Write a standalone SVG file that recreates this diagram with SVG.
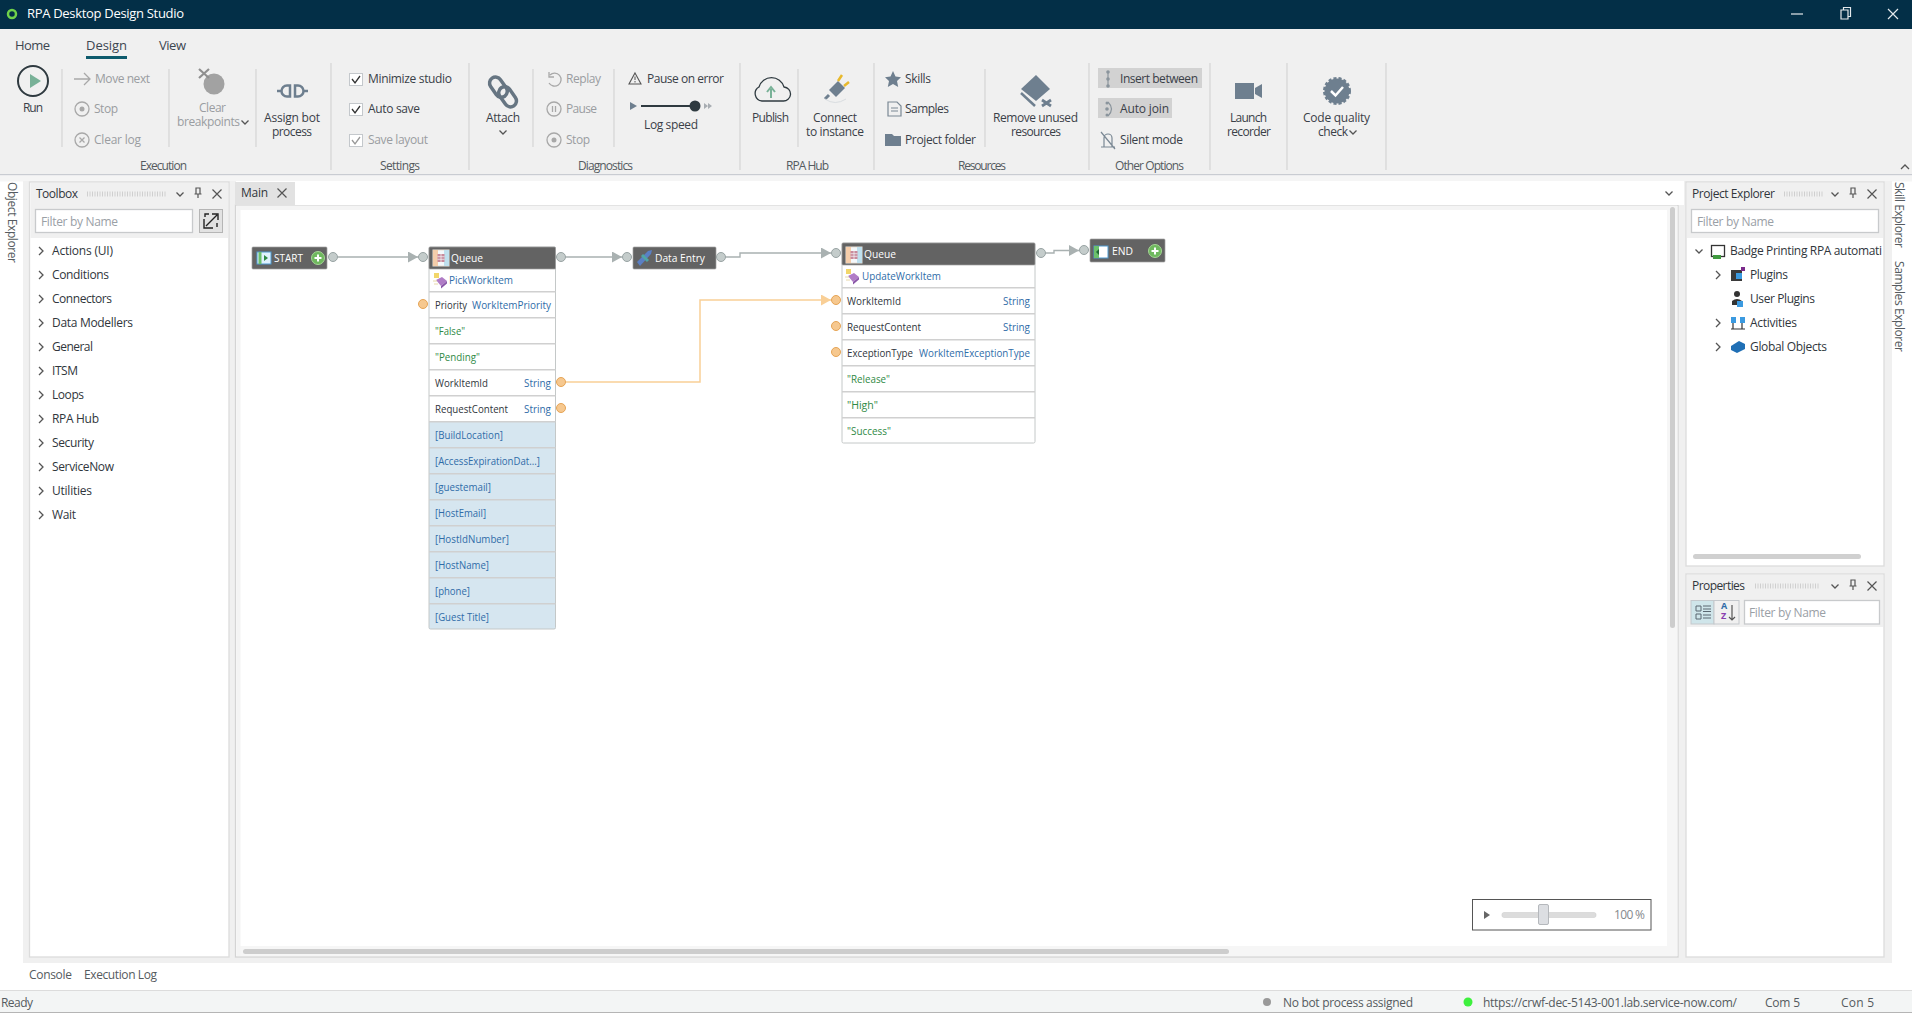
<svg xmlns="http://www.w3.org/2000/svg" width="1912" height="1013" viewBox="0 0 1912 1013">
<style>
text{font-family:"Open Sans","Noto Sans","Liberation Sans",sans-serif;font-size:12px;fill:#3a4048}
.g{fill:#9a9da1}
.d{fill:#30363c}
.tab{font-size:13px;fill:#3c4650}
.w{fill:#fff}
.b{fill:#2f6ca8}
.gr{fill:#2f8a45}
.ph{fill:#9aa0a6}
.mu{fill:#555b60}
.sep{stroke:#cfcfcf;stroke-width:1;fill:none}
.chev{stroke:#555;stroke-width:1.3;fill:none}
.ico{fill:#6e7f8f}
.dis{stroke:#a8a8a8;stroke-width:1.3;fill:none}
.box{fill:#fff;stroke:#c4c8cc;stroke-width:1}
.filter{fill:#fff;stroke:#c8cacc;stroke-width:1.3}
.panel{fill:#fff;stroke:#dcdcdc;stroke-width:1.3}
.hdr{fill:#636363;stroke:#a0a0a0;stroke-width:.7}
.row{fill:#fff}
.blue{fill:#d6e6f0}
.rowsep{stroke:#d0d0d0;stroke-width:1.6}
.outline{fill:none;stroke:#c4c8c8;stroke-width:1}
.pg{fill:#c4cccb;stroke:#98a3a3;stroke-width:1}
.po{fill:#f6c88f;stroke:#e6a455;stroke-width:1}
.conn{fill:none;stroke:#a9b1b1;stroke-width:1.4}
.conno{fill:none;stroke:#f9cf96;stroke-width:1.5}
.grip{stroke:#cfcfcf;stroke-width:5;stroke-dasharray:1 1.500;fill:none}
.x{stroke:#555;stroke-width:1.2;fill:none}
.node text{font-size:11.500px}
</style>
<defs>
<marker id="ag" markerUnits="userSpaceOnUse" markerWidth="10" markerHeight="11" refX="10" refY="5.500" orient="auto"><path d="M0 0L10 5.500L0 11Z" fill="#a9b1b1"/></marker>
<marker id="ao" markerUnits="userSpaceOnUse" markerWidth="10" markerHeight="11" refX="10" refY="5.500" orient="auto"><path d="M0 0L10 5.500L0 11Z" fill="#f9cf96"/></marker>
<g id="chevR"><path class="chev" d="M-2-4L2 0L-2 4"/></g>
<g id="chevD"><path class="chev" d="M-3.500-1.500L0 2L3.500-1.500"/></g>
<g id="closeX"><path class="x" d="M-4.500-4.500L4.500 4.500M4.500-4.500L-4.500 4.500"/></g>
<g id="pin"><path class="x" d="M-2-5H2V1H-2ZM-3.500 1H3.500M0 1V5"/></g>
<g id="plus"><circle r="6.500" fill="#6fb85e" stroke="#a5d695"/><path d="M-3.500 0H3.500M0-3.500V3.500" stroke="#fff" stroke-width="2"/></g>
<g id="qicon"><rect x="0" y="0" width="16" height="16" fill="#f4f8fb" stroke="#e9e2d8"/><rect x="0" y="0" width="5" height="16" fill="#f5cdaa"/><rect x="11" y="0" width="5" height="16" fill="#bfe0ee"/><rect x="4.500" y="4" width="7" height="8" fill="#c98a9c"/><path d="M4.500 6.700H11.500M4.500 9.300H11.500M8 4V12" stroke="#f4f8fb" stroke-width=".7"/></g>
<g id="micon"><path d="M3 7L9 4L14 8L8 13Z" fill="#b07cc6"/><path d="M8 13L14 8V10.500L8 15.500Z" fill="#8a57a8"/><rect x="1" y="0" width="5" height="5" fill="#f2d66a"/><path d="M0 8H4M1 11H5" stroke="#e8d8a8"/></g>
</defs>

<rect width="1912" height="1013" fill="#fff"/>
<g id="titlebar">
<rect width="1912" height="29" fill="#032f47"/>
<circle cx="12" cy="14" r="4" fill="none" stroke="#6fd24a" stroke-width="2.500"/>
<text class="w" x="27" y="18" textLength="157" style="font-size:13px">RPA Desktop Design Studio</text>
<path d="M1791 14H1803" stroke="#e4e9ec" stroke-width="1.200"/>
<path d="M1841 10V19H1848V10ZM1843.500 10V7.500H1850.500V16.500H1848" fill="none" stroke="#e4e9ec" stroke-width="1.200"/>
<path d="M1888 9L1898 19M1898 9L1888 19" stroke="#e4e9ec" stroke-width="1.200"/>
</g>

<g id="ribbon">
<rect y="29" width="1912" height="145" fill="#f0f0f0"/>
<rect y="174" width="1912" height="1.500" fill="#c9ccd2"/>
<rect y="175.500" width="1912" height="6" fill="#f5f5f5"/>
<text class="tab" x="15" y="49.500" textLength="35">Home</text>
<text class="tab d" x="86" y="49.500" textLength="41">Design</text>
<text class="tab" x="159" y="49.500" textLength="27">View</text>
<rect x="86" y="56" width="41" height="3" fill="#0d5a6c"/>
<path class="sep" d="M62 69V147M169 69V147M256 69V147M533 69V147M614 69V147M798 69V147M985 69V147"/>
<path class="sep" d="M331 63V170M469 63V170M740 63V170M874 63V170M1089 63V170M1210 63V170M1287 63V170M1386 63V170"/>

<circle cx="33" cy="81" r="15" fill="none" stroke="#2f3a40" stroke-width="2"/><path d="M30 74L41 81L30 88Z" fill="#78b197"/>
<text x="23" y="112" textLength="20">Run</text>
<path class="dis" d="M74 79H90M84 73L90 79L84 85"/>
<text class="g" x="95" y="83" textLength="55">Move next</text>
<circle class="dis" cx="82" cy="109" r="7"/><circle cx="82" cy="109" r="2.500" fill="#a8a8a8"/>
<text class="g" x="94" y="113" textLength="24">Stop</text>
<circle class="dis" cx="82" cy="140" r="7"/><path class="dis" d="M79.500 137.500L84.500 142.500M84.500 137.500L79.500 142.500"/>
<text class="g" x="94" y="144" textLength="47">Clear log</text>
<circle cx="214" cy="84" r="10.500" fill="#a2a2a2"/><path d="M199 69L209 78M209 69L199 78" stroke="#8f8f8f" stroke-width="2.200"/>
<text class="g" x="199" y="112" textLength="27">Clear</text>
<text class="g" x="177" y="126" textLength="63">breakpoints</text>
<use href="#chevD" x="245" y="122"/>
<path d="M277 91H282M303 91H308" stroke="#6e7f8f" stroke-width="2.500"/><path d="M290 85.500H287A5.500 5.500 0 0 0 287 96.500H290ZM295 85.500V96.500H298A5.500 5.500 0 0 0 298 85.500Z" fill="none" stroke="#6e7f8f" stroke-width="2.500"/>
<text x="264" y="122" textLength="56">Assign bot</text>
<text x="272" y="136" textLength="40">process</text>

<rect class="box" x="349.500" y="73.500" width="13" height="12"/><path d="M352 79L355 83L360 76" fill="none" stroke="#333" stroke-width="1.300"/>
<text x="368" y="83" textLength="84">Minimize studio</text>
<rect class="box" x="349.500" y="103.500" width="13" height="12"/><path d="M352 109L355 113L360 106" fill="none" stroke="#333" stroke-width="1.300"/>
<text x="368" y="113" textLength="52">Auto save</text>
<rect class="box" x="349.500" y="134.500" width="13" height="12"/><path d="M352 140L355 144L360 137" fill="none" stroke="#999" stroke-width="1.300"/>
<text class="g" x="368" y="144" textLength="60">Save layout</text>

<g fill="none" stroke="#667582" stroke-width="3.500"><rect x="-6" y="-12" width="12" height="22" rx="6" transform="translate(499 88) rotate(-35)"/><rect x="-6" y="-10" width="12" height="22" rx="6" transform="translate(507 96) rotate(-35)"/></g>
<text x="486" y="122" textLength="34">Attach</text>
<use href="#chevD" x="503" y="132"/>

<path class="dis" d="M550 75A6.500 6.500 0 1 1 549 83M549 72V77H554"/>
<text class="g" x="566" y="83" textLength="35">Replay</text>
<circle class="dis" cx="554" cy="109" r="7"/><path class="dis" d="M552.500 106V112M555.500 106V112"/>
<text class="g" x="566" y="113" textLength="31">Pause</text>
<circle class="dis" cx="554" cy="140" r="7"/><circle cx="554" cy="140" r="2.500" fill="#a8a8a8"/>
<text class="g" x="566" y="144" textLength="24">Stop</text>

<path d="M635 73L641 84H629Z" fill="none" stroke="#555" stroke-width="1.100"/><path d="M635 76.500V80M635 81V82.500" stroke="#555"/>
<text x="647" y="83" textLength="77">Pause on error</text>
<path d="M630 102L637 106L630 110Z" fill="#6e7f8f"/>
<path d="M641 106H695" stroke="#2f3a40" stroke-width="1.800"/><circle cx="695" cy="106" r="5.500" fill="#2f3a40"/>
<path d="M704 103L708 106L704 109ZM708 103L712 106L708 109Z" fill="#a8adb2"/>
<text x="644" y="129" textLength="54">Log speed</text>

<path d="M762 101H783A7 7 0 0 0 784 87A13 13 0 0 0 759 87A7.500 7.500 0 0 0 762 101Z" fill="none" stroke="#2f3a40" stroke-width="1.300"/><path d="M771 98V89M767 92L771 87L775 92" fill="none" stroke="#78b197" stroke-width="2"/>
<text x="752" y="122" textLength="37">Publish</text>

<path d="M829 90L838 81L845 88L836 97Z" fill="#6e7f8f"/><path d="M838 81L842 75M844 86L849 82" stroke="#e8b92c" stroke-width="2.500"/><path d="M829 95L825 99" stroke="#6e7f8f" stroke-width="3"/><path d="M825 99Q835 106 846 99" fill="none" stroke="#d9dde0"/>
<text x="813" y="122" textLength="44">Connect</text>
<text x="806" y="136" textLength="58">to instance</text>

<path d="M893 71L895.500 76.500L901 77.200L897 81L898.200 87L893 84L887.800 87L889 81L885 77.200L890.500 76.500Z" fill="#6e7f8f"/>
<text x="905" y="83" textLength="26">Skills</text>
<path d="M888 102H897L901 106V116H888Z" fill="none" stroke="#7a8894" stroke-width="1.200"/><path d="M891 108H898M891 111H898" stroke="#7a8894"/>
<text x="905" y="113" textLength="44">Samples</text>
<path d="M885 134H892L894 136H901V146H885Z" fill="#6e7f8f"/>
<text x="905" y="144" textLength="71">Project folder</text>

<path d="M1036 75L1050 89L1036 101L1021 89Z" fill="#6e7f8f"/><path d="M1021 93L1035 106" stroke="#6e7f8f" stroke-width="2.500"/><path d="M1042 100L1051 106M1051 100L1042 106" stroke="#6e7f8f" stroke-width="2.800"/>
<text x="993" y="122" textLength="85">Remove unused</text>
<text x="1011" y="136" textLength="50">resources</text>

<rect x="1098" y="68" width="104" height="20" fill="#d2d2d2"/>
<path d="M1108 71V87" stroke="#8a949c" stroke-width="1.200"/><circle cx="1108" cy="72" r="1.800" fill="#8a949c"/><circle cx="1108" cy="79" r="1.800" fill="#8a949c"/><circle cx="1108" cy="86" r="1.800" fill="#8a949c"/>
<text x="1120" y="83" textLength="78">Insert between</text>
<rect x="1098" y="98" width="74" height="20" fill="#d2d2d2"/>
<path d="M1108 102Q1115 109 1108 116" fill="none" stroke="#8a949c" stroke-width="1.200"/><circle cx="1107" cy="103" r="1.500" fill="#8a949c"/><circle cx="1107" cy="109" r="1.800" fill="#8a949c"/><circle cx="1107" cy="115" r="1.500" fill="#8a949c"/>
<text x="1120" y="113" textLength="49">Auto join</text>
<path d="M1101 147H1115M1104 147V138A4 4 0 0 1 1112 138V147M1101 132L1115 149" fill="none" stroke="#7a8894" stroke-width="1.200"/>
<text x="1120" y="144" textLength="63">Silent mode</text>

<rect x="1235" y="83" width="19" height="16" fill="#6e7f8f"/><path d="M1255 88L1262 84V98L1255 94Z" fill="#6e7f8f"/>
<text x="1230" y="122" textLength="37">Launch</text>
<text x="1227" y="136" textLength="44">recorder</text>

<circle cx="1337" cy="91" r="12.500" fill="#6e7f8f" stroke="#6e7f8f" stroke-width="3" stroke-dasharray="3 2"/><path d="M1331 91L1335.500 95.500L1343 87" fill="none" stroke="#fff" stroke-width="2.500"/>
<text x="1303" y="122" textLength="67">Code quality</text>
<text x="1318" y="136" textLength="30">check</text>
<use href="#chevD" x="1353" y="132"/>
<path class="chev" d="M1901 169L1905 165L1909 169"/>

<text class="mu" x="140" y="170" textLength="47">Execution</text>
<text class="mu" x="380" y="170" textLength="40">Settings</text>
<text class="mu" x="578" y="170" textLength="55">Diagnostics</text>
<text class="mu" x="786" y="170" textLength="43">RPA Hub</text>
<text class="mu" x="958" y="170" textLength="48">Resources</text>
<text class="mu" x="1115" y="170" textLength="69">Other Options</text>
</g>

<g id="dock-background">
<rect x="23" y="181" width="1869" height="782" fill="#f0f0f0"/>
</g>

<g id="side-tabs">
<text class="mu" transform="translate(8 182) rotate(90)" textLength="81">Object Explorer</text>
<text class="mu" transform="translate(1895 182) rotate(90)" textLength="66">Skill Explorer</text>
<text class="mu" transform="translate(1895 261) rotate(90)" textLength="91">Samples Explorer</text>
</g>

<g id="toolbox">
<rect class="panel" x="29.500" y="182" width="199.500" height="775"/>
<rect x="30.500" y="183" width="197.500" height="55" fill="#f0f0f0"/>
<text class="d" x="36" y="198" textLength="42">Toolbox</text>
<path class="grip" d="M87 194H166"/>
<use href="#chevD" x="180" y="194"/><use href="#pin" x="198" y="193"/><use href="#closeX" x="217" y="194"/>
<rect class="filter" x="35.500" y="209.500" width="157" height="23"/>
<text class="ph" x="41" y="226" textLength="77">Filter by Name</text>
<rect x="199.500" y="209.500" width="23" height="23" fill="#e2e2e2" stroke="#b5b5b5"/>
<path d="M206 226L217 215M212 214H218V220M204 219V228H213M209 214H205V217M217 223V227" fill="none" stroke="#222" stroke-width="1.400"/>
<use href="#chevR" x="41" y="251"/><text class="d" x="52" y="255" textLength="61">Actions (UI)</text>
<use href="#chevR" x="41" y="275"/><text class="d" x="52" y="279" textLength="57">Conditions</text>
<use href="#chevR" x="41" y="299"/><text class="d" x="52" y="303" textLength="60">Connectors</text>
<use href="#chevR" x="41" y="323"/><text class="d" x="52" y="327" textLength="81">Data Modellers</text>
<use href="#chevR" x="41" y="347"/><text class="d" x="52" y="351" textLength="41">General</text>
<use href="#chevR" x="41" y="371"/><text class="d" x="52" y="375" textLength="26">ITSM</text>
<use href="#chevR" x="41" y="395"/><text class="d" x="52" y="399" textLength="32">Loops</text>
<use href="#chevR" x="41" y="419"/><text class="d" x="52" y="423" textLength="47">RPA Hub</text>
<use href="#chevR" x="41" y="443"/><text class="d" x="52" y="447" textLength="42">Security</text>
<use href="#chevR" x="41" y="467"/><text class="d" x="52" y="471" textLength="62">ServiceNow</text>
<use href="#chevR" x="41" y="491"/><text class="d" x="52" y="495" textLength="40">Utilities</text>
<use href="#chevR" x="41" y="515"/><text class="d" x="52" y="519" textLength="24">Wait</text>
</g>

<g id="canvas-panel">
<rect x="235.500" y="205" width="1442.500" height="752" fill="#fff" stroke="#d4d4d4" stroke-width="1.300"/>
<rect x="236" y="181" width="1448" height="24" fill="#fff"/>
<rect x="235" y="182" width="60" height="23" fill="#e2e2e2"/>
<text class="d" x="241" y="197" textLength="27">Main</text>
<use href="#closeX" x="282" y="193"/>
<use href="#chevD" x="1669" y="193"/>
<rect x="1667" y="206" width="10.500" height="750" fill="#f6f6f6"/>
<rect x="237" y="946" width="1440" height="10" fill="#f6f6f6"/>
<rect x="236.500" y="206" width="4" height="750" fill="#f4f4f4"/>
<rect x="236.500" y="206" width="1440" height="4" fill="#f4f4f4"/>
<rect x="1670" y="207" width="5" height="421" rx="2.500" fill="#cdcdcd"/>
<rect x="243" y="949" width="986" height="5" rx="2.500" fill="#cdcdcd"/>
</g>

<g id="connectors">
<path class="conn" marker-end="url(#ag)" d="M338 257H418"/>
<path class="conn" marker-end="url(#ag)" d="M566 257H622"/>
<path class="conn" marker-end="url(#ag)" d="M726 257H740V253H831"/>
<path class="conn" marker-end="url(#ag)" d="M1046 253H1054V250.500H1079"/>
<path class="conno" marker-end="url(#ao)" d="M566 382H700V300H831"/>
</g>

<g id="node-start" class="node">
<rect class="hdr" x="252" y="247" width="75" height="22" rx="1"/>
<rect x="257" y="252" width="14" height="12" fill="#dff2ff" stroke="#4e9ad0"/><path d="M260 252V264" stroke="#6cc06c" stroke-width="3"/><path d="M264 255L268 258L264 261Z" fill="#2f8a45"/>
<text class="w" x="274" y="262" textLength="29" lengthAdjust="spacingAndGlyphs">START</text>
<use href="#plus" x="318" y="258"/>
<circle class="pg" cx="333" cy="257" r="4.500"/>
</g>

<g id="node-queue-pick" class="node">
<rect class="row" x="429" y="269" width="126.500" height="153"/>
<rect class="blue" x="429" y="422" width="126.500" height="207"/>
<rect class="outline" x="429" y="247" width="126.500" height="382" rx="1.500"/>
<path class="rowsep" d="M429 291.700H555.500M429 317.700H555.500M429 343.700H555.500M429 369.700H555.500M429 395.700H555.500M429 421.700H555.500M429 447.700H555.500M429 473.700H555.500M429 499.700H555.500M429 525.700H555.500M429 551.700H555.500M429 577.700H555.500M429 603.700H555.500"/>
<rect class="hdr" x="429" y="247" width="126.500" height="22" rx="1"/>
<use href="#qicon" x="433" y="250"/>
<text class="w" x="451" y="262" textLength="32" lengthAdjust="spacingAndGlyphs">Queue</text>
<use href="#micon" x="433" y="273"/>
<text class="b" x="449" y="284" textLength="64" lengthAdjust="spacingAndGlyphs">PickWorkItem</text>
<text class="d" x="435" y="309" textLength="32" lengthAdjust="spacingAndGlyphs">Priority</text><text class="b" x="472" y="309" textLength="79" lengthAdjust="spacingAndGlyphs">WorkItemPriority</text>
<text class="gr" x="435" y="335" textLength="30" lengthAdjust="spacingAndGlyphs">"False"</text>
<text class="gr" x="435" y="361" textLength="45" lengthAdjust="spacingAndGlyphs">"Pending"</text>
<text class="d" x="435" y="387" textLength="53" lengthAdjust="spacingAndGlyphs">WorkItemId</text><text class="b" x="524" y="387" textLength="27" lengthAdjust="spacingAndGlyphs">String</text>
<text class="d" x="435" y="413" textLength="73" lengthAdjust="spacingAndGlyphs">RequestContent</text><text class="b" x="524" y="413" textLength="27" lengthAdjust="spacingAndGlyphs">String</text>
<text class="b" x="435" y="439" textLength="68" lengthAdjust="spacingAndGlyphs">[BuildLocation]</text>
<text class="b" x="435" y="465" textLength="105" lengthAdjust="spacingAndGlyphs">[AccessExpirationDat...]</text>
<text class="b" x="435" y="491" textLength="56" lengthAdjust="spacingAndGlyphs">[guestemail]</text>
<text class="b" x="435" y="517" textLength="51" lengthAdjust="spacingAndGlyphs">[HostEmail]</text>
<text class="b" x="435" y="543" textLength="74" lengthAdjust="spacingAndGlyphs">[HostIdNumber]</text>
<text class="b" x="435" y="569" textLength="54" lengthAdjust="spacingAndGlyphs">[HostName]</text>
<text class="b" x="435" y="595" textLength="35" lengthAdjust="spacingAndGlyphs">[phone]</text>
<text class="b" x="435" y="621" textLength="54" lengthAdjust="spacingAndGlyphs">[Guest Title]</text>
<circle class="pg" cx="423" cy="257" r="4.500"/>
<circle class="pg" cx="561" cy="257" r="4.500"/>
<circle class="po" cx="423" cy="304" r="4.500"/>
<circle class="po" cx="561" cy="382" r="4.500"/>
<circle class="po" cx="561" cy="408" r="4.500"/>
</g>

<g id="node-data-entry" class="node">
<rect class="hdr" x="633" y="247" width="83" height="22" rx="1"/>
<path d="M637 262L648 251L652 250L651 254L640 266Z" fill="#5a7fc4"/><path d="M642 255L648 261" stroke="#4fa5a5" stroke-width="3"/>
<text class="w" x="655" y="262" textLength="50" lengthAdjust="spacingAndGlyphs">Data Entry</text>
<circle class="pg" cx="627" cy="257" r="4.500"/>
<circle class="pg" cx="721" cy="257" r="4.500"/>
</g>

<g id="node-queue-update" class="node">
<rect class="row" x="842" y="265" width="193" height="178"/>
<rect class="outline" x="842" y="243" width="193" height="200" rx="1.500"/>
<path class="rowsep" d="M842 287.700H1035M842 313.700H1035M842 339.700H1035M842 365.700H1035M842 391.700H1035M842 417.700H1035"/>
<rect class="hdr" x="842" y="243" width="193" height="22" rx="1"/>
<use href="#qicon" x="846" y="247"/>
<text class="w" x="864" y="258" textLength="32" lengthAdjust="spacingAndGlyphs">Queue</text>
<use href="#micon" x="845" y="269"/>
<text class="b" x="862" y="280" textLength="79" lengthAdjust="spacingAndGlyphs">UpdateWorkItem</text>
<text class="d" x="847" y="305" textLength="54" lengthAdjust="spacingAndGlyphs">WorkItemId</text><text class="b" x="1003" y="305" textLength="27" lengthAdjust="spacingAndGlyphs">String</text>
<text class="d" x="847" y="331" textLength="74" lengthAdjust="spacingAndGlyphs">RequestContent</text><text class="b" x="1003" y="331" textLength="27" lengthAdjust="spacingAndGlyphs">String</text>
<text class="d" x="847" y="357" textLength="66" lengthAdjust="spacingAndGlyphs">ExceptionType</text><text class="b" x="919" y="357" textLength="111" lengthAdjust="spacingAndGlyphs">WorkItemExceptionType</text>
<text class="gr" x="847" y="383" textLength="43" lengthAdjust="spacingAndGlyphs">"Release"</text>
<text class="gr" x="847" y="409" textLength="31" lengthAdjust="spacingAndGlyphs">"High"</text>
<text class="gr" x="847" y="435" textLength="44" lengthAdjust="spacingAndGlyphs">"Success"</text>
<circle class="pg" cx="836" cy="253" r="4.500"/>
<circle class="pg" cx="1041" cy="253" r="4.500"/>
<circle class="po" cx="836" cy="300" r="4.500"/>
<circle class="po" cx="836" cy="326" r="4.500"/>
<circle class="po" cx="836" cy="352" r="4.500"/>
</g>

<g id="node-end" class="node">
<rect class="hdr" x="1090" y="239" width="75" height="23" rx="1"/>
<rect x="1094" y="246" width="14" height="12" fill="#fff" stroke="#4e9ad0"/><rect x="1094" y="246" width="5" height="12" fill="#6cc06c"/><path d="M1099 249L1096 252L1099 255Z" fill="#1f6a35"/>
<text class="w" x="1112" y="255" textLength="21" lengthAdjust="spacingAndGlyphs">END</text>
<use href="#plus" x="1155" y="251"/>
<circle class="pg" cx="1084" cy="250" r="4.500"/>
</g>

<g id="zoom-control">
<rect x="1472.500" y="899.500" width="178.500" height="30.500" fill="#fff" stroke="#555"/>
<path d="M1484 911L1490 915L1484 919Z" fill="#666"/>
<rect x="1502" y="912.500" width="94" height="5" rx="2" fill="#dcdcdc" stroke="#cfcfcf" stroke-width=".6"/>
<rect x="1538.500" y="904.500" width="10" height="20" rx="1.500" fill="#dcdee2" stroke="#b5b8bc"/>
<text class="ph" x="1614" y="919" textLength="31" style="fill:#85898d">100 %</text>
</g>

<g id="project-explorer">
<rect class="panel" x="1686" y="182" width="198" height="384"/>
<rect x="1687" y="183" width="196" height="55" fill="#f0f0f0"/>
<text class="d" x="1692" y="198" textLength="83">Project Explorer</text>
<path class="grip" d="M1784 194H1823"/>
<use href="#chevD" x="1835" y="194"/><use href="#pin" x="1853" y="193"/><use href="#closeX" x="1872" y="194"/>
<rect class="filter" x="1691.500" y="209.500" width="187" height="23"/>
<text class="ph" x="1697" y="226" textLength="77">Filter by Name</text>
<use href="#chevD" x="1699" y="251"/>
<rect x="1711.500" y="245.500" width="13" height="11" fill="none" stroke="#333" stroke-width="1.300"/><rect x="1713" y="255" width="8" height="4" fill="#3f9a3f"/>
<text class="d" x="1730" y="255" textLength="152">Badge Printing RPA automati</text>
<use href="#chevR" x="1718" y="275"/>
<rect x="1731" y="270" width="11" height="11" fill="#3a3a3a"/><rect x="1736" y="273" width="6" height="6" fill="#3b9ae0"/><rect x="1741" y="267" width="4" height="4" fill="#7a2a8a"/>
<text class="d" x="1750" y="279" textLength="38">Plugins</text>
<circle cx="1737" cy="294" r="3" fill="#333"/><path d="M1732 305V301Q1737 297 1742 301V305Z" fill="#333"/><rect x="1737" y="301" width="6" height="6" fill="#3b9ae0"/>
<text class="d" x="1750" y="303" textLength="65">User Plugins</text>
<use href="#chevR" x="1718" y="323"/>
<rect x="1731" y="317" width="5" height="6" fill="#3b9ae0"/><rect x="1740" y="317" width="5" height="6" fill="#3b9ae0"/><path d="M1733 323V329M1742 323V329M1731 329H1745" stroke="#333" stroke-width="1.200"/>
<text class="d" x="1750" y="327" textLength="47">Activities</text>
<use href="#chevR" x="1718" y="347"/>
<path d="M1731 346L1739 341L1745 344V349L1737 353L1731 350Z" fill="#1f6fb5"/>
<text class="d" x="1750" y="351" textLength="77">Global Objects</text>
<rect x="1693" y="554" width="168" height="5" rx="2.500" fill="#d0d0d0"/>
</g>

<g id="properties">
<rect class="panel" x="1686" y="574" width="198" height="383"/>
<rect x="1687" y="575" width="196" height="52" fill="#f0f0f0"/>
<text class="d" x="1692" y="590" textLength="53">Properties</text>
<path class="grip" d="M1755 586H1820"/>
<use href="#chevD" x="1835" y="586"/><use href="#pin" x="1853" y="585"/><use href="#closeX" x="1872" y="586"/>
<rect x="1691" y="600.500" width="23" height="23.500" fill="#cfe5ea" stroke="#c4c8cc"/>
<rect x="1714" y="600.500" width="25" height="23.500" fill="#f0f0f0" stroke="#c4c8cc"/>
<path d="M1696 606H1701V611H1696ZM1696 614H1701V619H1696ZM1703 606H1711M1703 609H1711M1703 611.500H1711M1703 615H1711M1703 618H1711" fill="none" stroke="#5a6670"/>
<text style="font-size:9px;fill:#2f6ca8;font-weight:700" x="1721" y="609">A</text>
<text style="font-size:9px;fill:#8a3fb0;font-weight:700" x="1721" y="619">Z</text>
<path d="M1732 605V620M1729 617L1732 620L1735 617" fill="none" stroke="#555" stroke-width="1.200"/>
<rect class="filter" x="1744.500" y="600.500" width="135" height="23.500"/>
<text class="ph" x="1749" y="617" textLength="77">Filter by Name</text>
</g>

<g id="statusbar">
<text class="mu" x="29" y="979" textLength="43">Console</text>
<text class="mu" x="84" y="979" textLength="73">Execution Log</text>
<rect y="990" width="1912" height="23" fill="#f3f5f5"/>
<path d="M0 990.500H1912" stroke="#dcdcdc"/>
<path d="M0 1012.500H1912" stroke="#b5b5b5"/>
<text class="mu" x="1" y="1007" textLength="32">Ready</text>
<circle cx="1267" cy="1002" r="4" fill="#999"/>
<text class="mu" x="1283" y="1007" textLength="130">No bot process assigned</text>
<circle cx="1468" cy="1002" r="4.500" fill="#3ef03e"/>
<text class="mu" x="1483" y="1007" textLength="254">https://crwf-dec-5143-001.lab.service-now.com/</text>
<text class="mu" x="1765" y="1007" textLength="35">Com 5</text>
<text class="mu" x="1841" y="1007" textLength="33">Con 5</text>
</g>
</svg>
